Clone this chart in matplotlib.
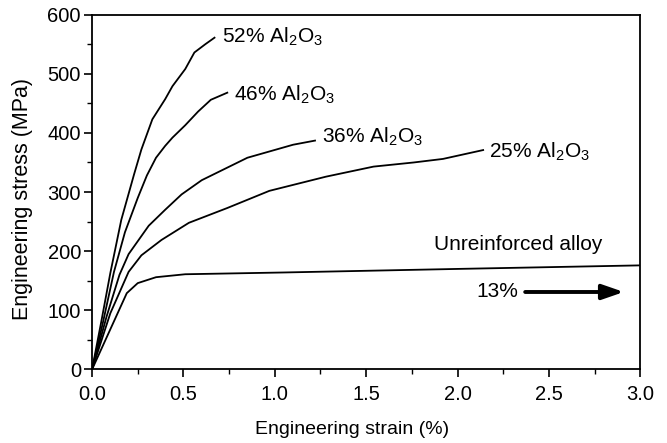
import matplotlib
matplotlib.use("Agg")
import matplotlib.pyplot as plt
from matplotlib.ticker import MultipleLocator, FormatStrFormatter

plt.rcParams['font.family'] = ['Liberation Sans', 'DejaVu Sans']
plt.rcParams['mathtext.default'] = 'regular'

# stress-strain curves (strain %, stress MPa)
strain_52 = [0, 0.05, 0.10, 0.16, 0.23, 0.27, 0.33, 0.40, 0.44, 0.51, 0.56, 0.62, 0.67]
stress_52 = [0, 80, 163, 253, 330, 372, 423, 457, 479, 508, 536, 550, 561]

strain_46 = [0, 0.06, 0.12, 0.18, 0.25, 0.30, 0.35, 0.40, 0.44, 0.51, 0.58, 0.65, 0.74]
stress_46 = [0, 80, 165, 232, 290, 328, 358, 378, 392, 413, 436, 456, 468]

strain_36 = [0, 0.08, 0.15, 0.20, 0.31, 0.40, 0.49, 0.60, 0.85, 1.10, 1.22]
stress_36 = [0, 90, 160, 195, 243, 270, 296, 320, 358, 380, 387]

strain_25 = [0, 0.10, 0.20, 0.27, 0.38, 0.53, 0.74, 0.97, 1.28, 1.54, 1.76, 1.92, 2.14]
stress_25 = [0, 95, 165, 193, 219, 248, 273, 302, 326, 343, 350, 356, 371]

strain_un = [0, 0.19, 0.25, 0.35, 0.51, 1.05, 2.0, 3.0]
stress_un = [0, 129, 146, 156, 161, 164, 170, 176]

fig = plt.figure(figsize=(6.67, 4.43), dpi=100)
ax = fig.add_axes([0.138, 0.166, 0.822, 0.801])

lw = 1.3
for x, y in [(strain_52, stress_52), (strain_46, stress_46), (strain_36, stress_36),
             (strain_25, stress_25), (strain_un, stress_un)]:
    ax.plot(x, y, color='black', lw=lw, solid_joinstyle='round')

fs = 15
ax.text(0.71, 562, '52% Al$_2$O$_3$', fontsize=fs, va='center', ha='left')
ax.text(0.775, 465, '46% Al$_2$O$_3$', fontsize=fs, va='center', ha='left')
ax.text(1.26, 394, '36% Al$_2$O$_3$', fontsize=fs, va='center', ha='left')
ax.text(2.17, 368, '25% Al$_2$O$_3$', fontsize=fs, va='center', ha='left')
ax.text(2.79, 211, 'Unreinforced alloy', fontsize=fs, va='center', ha='right')
ax.text(2.33, 131, '13%', fontsize=fs, va='center', ha='right')
ax.annotate('', xy=(2.91, 131), xytext=(2.37, 131),
            arrowprops=dict(arrowstyle='-|>,head_length=1.3,head_width=0.45',
                            color='black', lw=2.8, shrinkA=0, shrinkB=0))

ax.set_xlim(0, 3.0)
ax.set_ylim(0, 600)
ax.xaxis.set_major_locator(MultipleLocator(0.5))
ax.xaxis.set_minor_locator(MultipleLocator(0.25))
ax.yaxis.set_major_locator(MultipleLocator(100))
ax.yaxis.set_minor_locator(MultipleLocator(50))
ax.xaxis.set_major_formatter(FormatStrFormatter('%.1f'))

ax.tick_params(which='major', direction='out', length=6, width=1.2, labelsize=14.5)
ax.tick_params(axis='x', which='major', pad=5)
ax.tick_params(axis='y', which='major', pad=2)
ax.tick_params(which='minor', direction='out', length=3.5, width=1.0)
for s in ax.spines.values():
    s.set_linewidth(1.3)

ax.set_xlabel('Engineering strain (%)', fontsize=14)
ax.set_ylabel('Engineering stress (MPa)', fontsize=15.5)
ax.xaxis.set_label_coords(0.474, -0.145)
ax.yaxis.set_label_coords(-0.108, 0.48)

fig.savefig('out.png', dpi=100)
